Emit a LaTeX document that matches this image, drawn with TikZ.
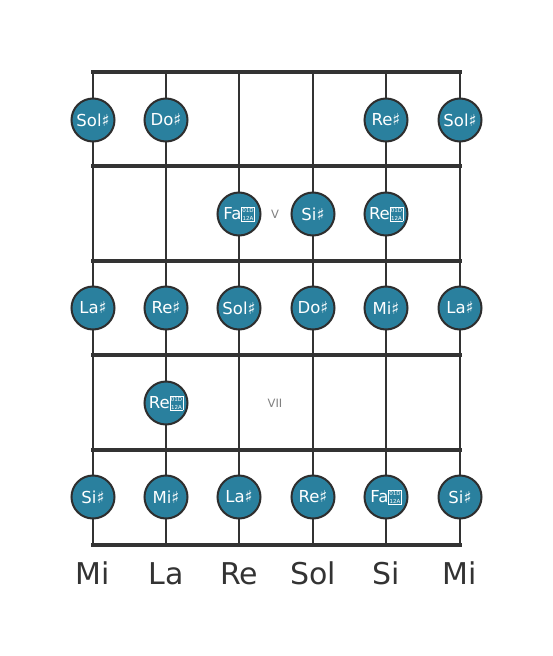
\documentclass[tikz,border=0pt]{standalone}
\usepackage{fontspec}
\setmainfont{DejaVu Sans}
\definecolor{noteblue}{HTML}{2A809E}
\definecolor{wire}{HTML}{333333}
% missing-glyph box as printed for the double sharp
\newcommand{\dblsharp}{\raisebox{-0.5pt}{\fboxsep=0.5pt\fboxrule=0.45pt\fbox{\fontsize{5.5}{5.5}\selectfont\shortstack{01D\\[0.8pt]12A}}}}
\begin{document}
\begin{tikzpicture}[x=1pt,y=-1pt,%
% frets and strings:
fret/.style = {draw=wire, line width=4.5pt, line cap=rect},
string/.style = {draw=wire, line width=2.6pt},
% common options for the note circles:
note/.style = {circle, draw=black!82, line width=2pt, fill=noteblue, text=white,
            font=\fontsize{16.5}{16.5}\selectfont, minimum size=43pt, inner sep=0},
% open string names and position marks:
tuning/.style = {text=wire, font=\fontsize{30}{30}\selectfont, anchor=base},
posmark/.style = {text=gray, font=\fontsize{11.5}{11.5}\selectfont}]
\useasboundingbox (0,0) rectangle (553,656);
\draw[string] (93,72) -- (93,545);
\draw[string] (166,72) -- (166,545);
\draw[string] (239,72) -- (239,545);
\draw[string] (313,72) -- (313,545);
\draw[string] (386,72) -- (386,545);
\draw[string] (460,72) -- (460,545);
\draw[fret] (93,72) -- (460,72);
\draw[fret] (93,166) -- (460,166);
\draw[fret] (93,261) -- (460,261);
\draw[fret] (93,355) -- (460,355);
\draw[fret] (93,450) -- (460,450);
\draw[fret] (93,545) -- (460,545);
\node[note] (A1) at (93,120) {Sol♯};
\node[note] (A2) at (166,120) {Do♯};
\node[note] (A5) at (386,120) {Re♯};
\node[note] (A6) at (460,120) {Sol♯};
\node[note] (B3) at (239,214) {Fa\dblsharp};
\node[note] (B4) at (313,214) {Si♯};
\node[note] (B5) at (386,214) {Re\dblsharp};
\node[posmark] (M5) at (275,214) {V};
\node[note] (C1) at (93,308) {La♯};
\node[note] (C2) at (166,308) {Re♯};
\node[note] (C3) at (239,308) {Sol♯};
\node[note] (C4) at (313,308) {Do♯};
\node[note] (C5) at (386,308) {Mi♯};
\node[note] (C6) at (460,308) {La♯};
\node[note] (D2) at (166,403) {Re\dblsharp};
\node[posmark] (M7) at (275,403) {VII};
\node[note] (E1) at (93,497) {Si♯};
\node[note] (E2) at (166,497) {Mi♯};
\node[note] (E3) at (239,497) {La♯};
\node[note] (E4) at (313,497) {Re♯};
\node[note] (E5) at (386,497) {Fa\dblsharp};
\node[note] (E6) at (460,497) {Si♯};
\node[tuning] (T1) at (93,584) {Mi};
\node[tuning] (T2) at (166,584) {La};
\node[tuning] (T3) at (239,584) {Re};
\node[tuning] (T4) at (313,584) {Sol};
\node[tuning] (T5) at (386,584) {Si};
\node[tuning] (T6) at (460,584) {Mi};
\end{tikzpicture}
\end{document}
